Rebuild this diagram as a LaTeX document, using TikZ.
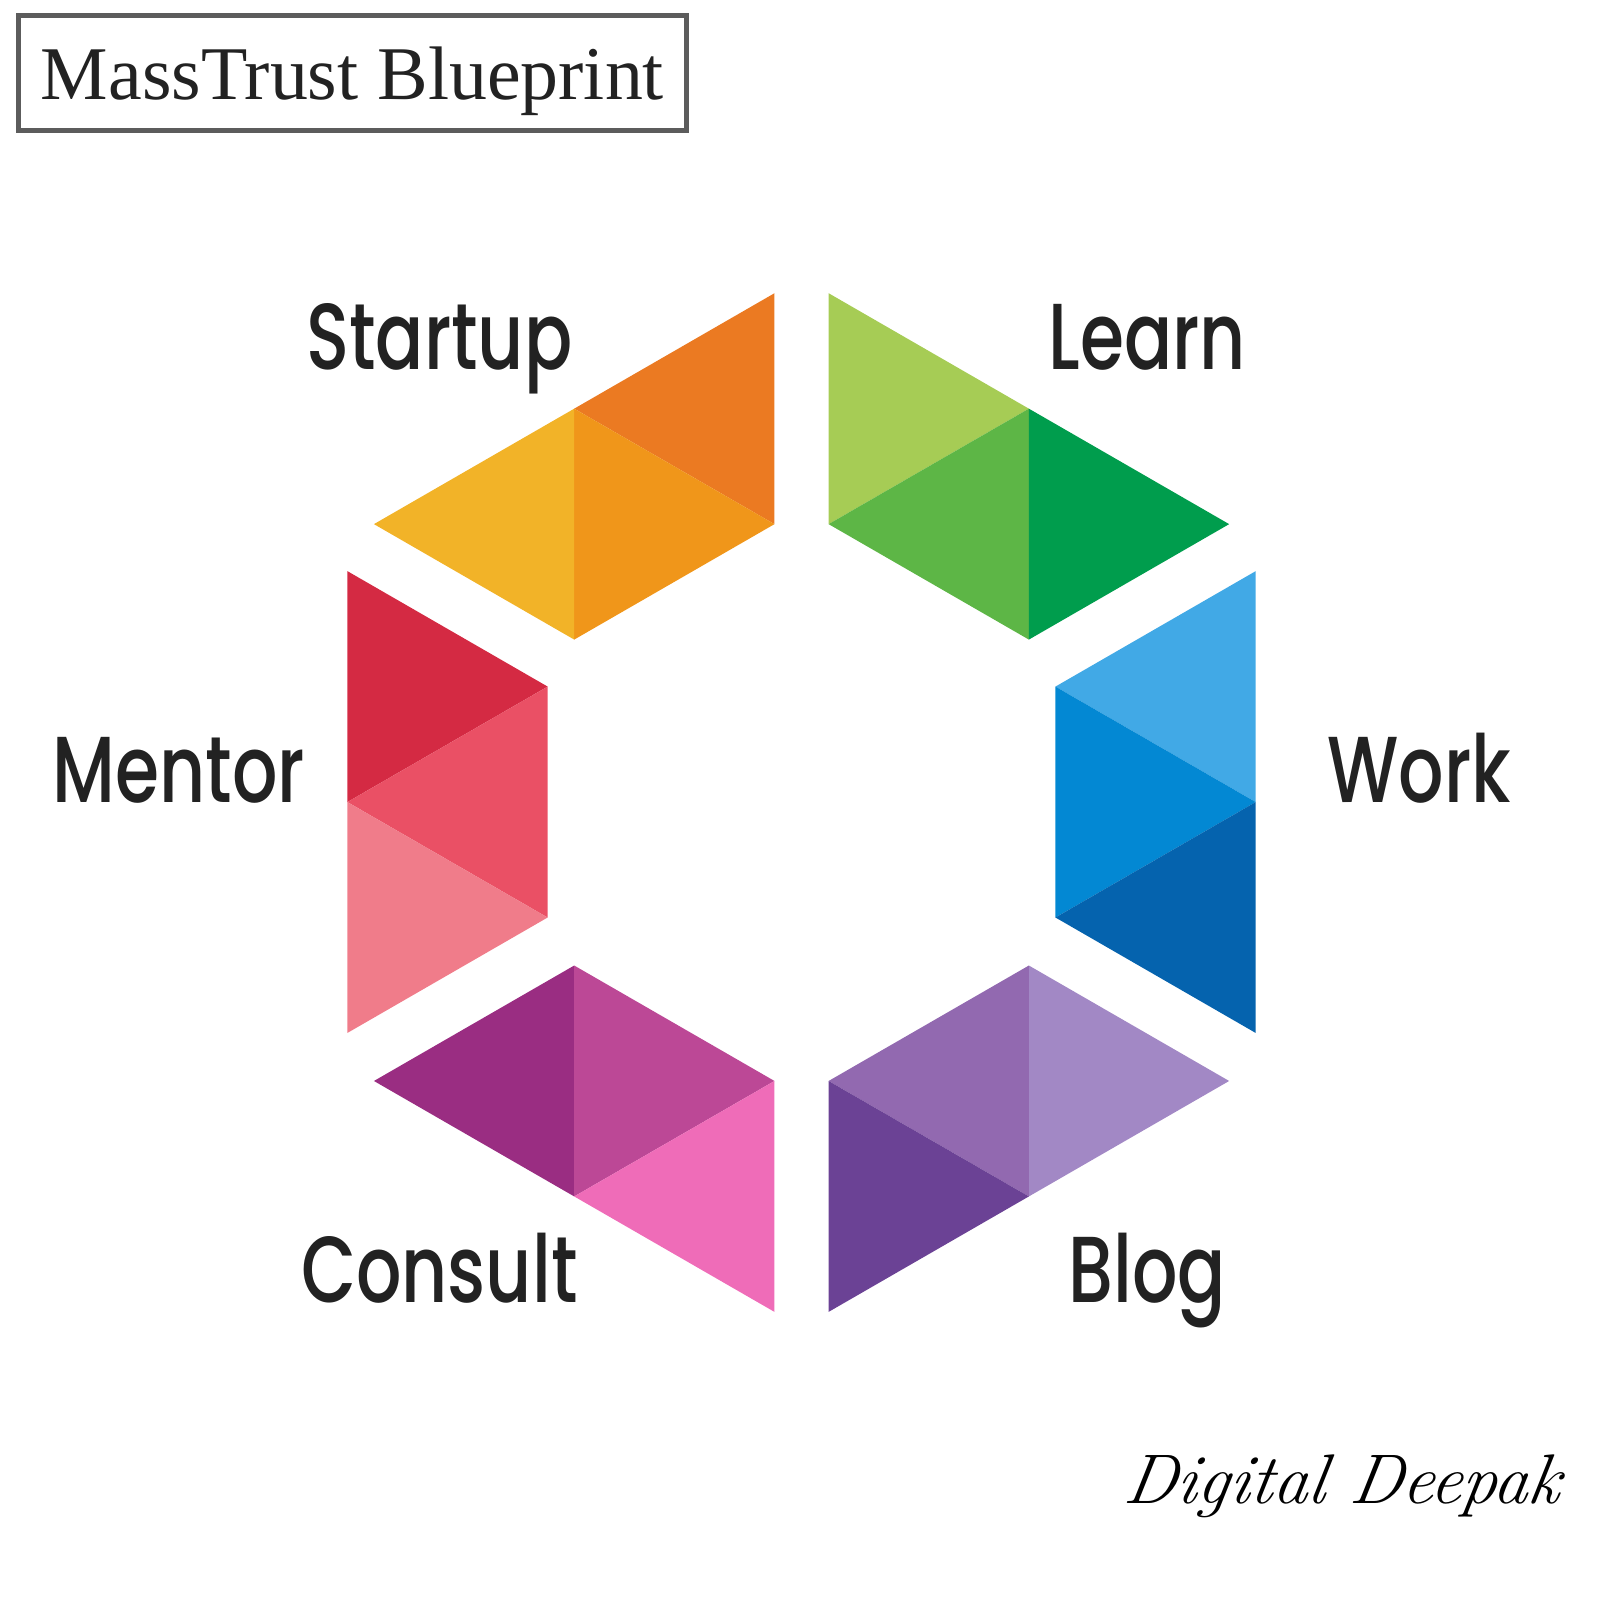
\documentclass[tikz,border=0pt]{standalone}
\usepackage{fontspec}
\setmainfont{Liberation Serif}
\newfontfamily\labelfont{Poppins}[UprightFont={* Medium}, FakeStretch=0.76]
\newfontfamily\signfont{Latin Modern Roman}[FakeSlant=0.15]
\usetikzlibrary{positioning}

\definecolor{txt}{HTML}{222222}
\definecolor{boxgray}{HTML}{5C5C5C}
% startup
\definecolor{orA}{HTML}{EB7A22}
\definecolor{orB}{HTML}{F0961A}
\definecolor{orC}{HTML}{F2B328}
% learn
\definecolor{grA}{HTML}{A6CC55}
\definecolor{grB}{HTML}{5DB646}
\definecolor{grC}{HTML}{009D4D}
% work
\definecolor{blA}{HTML}{41A9E6}
\definecolor{blB}{HTML}{0388D3}
\definecolor{blC}{HTML}{0563AE}
% blog
\definecolor{puA}{HTML}{A288C5}
\definecolor{puB}{HTML}{9269B0}
\definecolor{puC}{HTML}{6B4295}
% consult
\definecolor{mgA}{HTML}{9A2D82}
\definecolor{mgB}{HTML}{BC4896}
\definecolor{mgC}{HTML}{EF6CB8}
% mentor
\definecolor{rdA}{HTML}{D42A43}
\definecolor{rdB}{HTML}{EA5065}
\definecolor{rdC}{HTML}{F07C8A}

\tikzset{
  part/.style={font=\labelfont\fontsize{26.7}{26.7}\selectfont, text=txt, anchor=base, inner sep=0pt},
  titlebox/.style={draw=boxgray, line width=1.3pt, minimum width=6.68cm, minimum height=1.155cm, inner sep=0pt,
    text height=14.8pt, text depth=0pt, font=\fontsize{21.6}{21.6}\selectfont, text=txt},
  sign/.style={font=\signfont\itshape\fontsize{20}{20}\selectfont, text=black, inner sep=0pt}
}

\begin{document}
\begin{tikzpicture}[x=0.010217cm, y=-0.010217cm]
\useasboundingbox (0,0) rectangle (1566,1566);

\node[titlebox] (title) at (345,71.5) {MassTrust Blueprint};

% Startup
\fill[orA] (758,287) -- (758,513) -- (562,400) -- cycle;
\fill[orB] (562,400) -- (758,513) -- (562,626) -- cycle;
\fill[orC] (562,400) -- (366,513) -- (562,626) -- cycle;

% Learn
\fill[grA] (811,287) -- (1007,400) -- (811,513) -- cycle;
\fill[grB] (1007,400) -- (811,513) -- (1007,626) -- cycle;
\fill[grC] (1007,400) -- (1203,513) -- (1007,626) -- cycle;

% Work
\fill[blA] (1229,559) -- (1229,785) -- (1033,672) -- cycle;
\fill[blB] (1033,672) -- (1229,785) -- (1033,898) -- cycle;
\fill[blC] (1229,785) -- (1229,1011) -- (1033,898) -- cycle;

% Blog
\fill[puA] (1007,945) -- (1203,1058) -- (1007,1171) -- cycle;
\fill[puB] (1007,945) -- (811,1058) -- (1007,1171) -- cycle;
\fill[puC] (811,1058) -- (1007,1171) -- (811,1284) -- cycle;

% Consult
\fill[mgA] (366,1058) -- (562,945) -- (562,1171) -- cycle;
\fill[mgB] (562,945) -- (758,1058) -- (562,1171) -- cycle;
\fill[mgC] (758,1058) -- (562,1171) -- (758,1284) -- cycle;

% Mentor
\fill[rdA] (340,559) -- (536,672) -- (340,785) -- cycle;
\fill[rdB] (340,785) -- (536,672) -- (536,898) -- cycle;
\fill[rdC] (340,785) -- (536,898) -- (340,1011) -- cycle;

\node[part] (startup) at (430,362) {Startup};
\node[part] (learn) at (1123,362) {Learn};
\node[part] (mentor) at (175,785) {Mentor};
\node[part] (work) at (1389,785) {Work};
\node[part] (consult) at (430,1275) {Consult};
\node[part] (blog) at (1123,1275) {Blog};

\node[sign] (signature) at (1312,1455) {Digital Deepak};

\end{tikzpicture}
\end{document}
